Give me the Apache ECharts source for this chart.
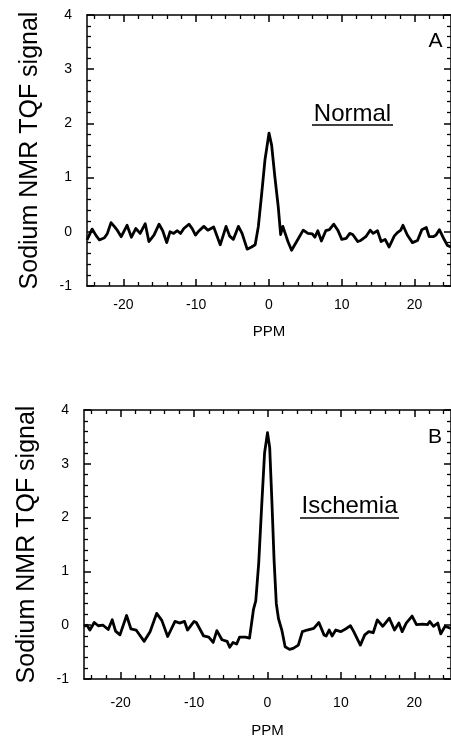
<!DOCTYPE html>
<html>
<head>
<meta charset="utf-8">
<script src="https://cdn.jsdelivr.net/npm/echarts@6/dist/echarts.min.js"></script>
<style>
html,body{margin:0;padding:0;background:#fff;}
#chart{width:451px;height:740px;}
</style>
</head>
<body>
<div id="chart"></div>
<script>
// ---- Data ----
var ppmA = [-25.0,-24.3,-23.7,-23.3,-22.6,-22.2,-21.7,-21.2,-20.8,-20.3,-19.5,-18.9,-18.3,-17.7,-17.0,-16.5,-15.8,-15.1,-14.6,-14.05,-13.6,-13.1,-12.6,-12.15,-11.7,-11.0,-10.55,-10.1,-9.6,-8.95,-8.4,-8.2,-7.6,-6.7,-6.2,-5.9,-5.4,-4.9,-4.2,-3.7,-3.0,-2.4,-1.9,-1.46,-1.0,-0.55,0.0,0.36,0.8,1.27,1.6,1.9,2.2,2.6,3.1,3.8,4.7,5.35,5.95,6.3,6.7,7.2,7.8,8.3,8.9,9.45,10.0,10.6,11.1,11.5,12.2,12.6,13.3,13.9,14.3,14.9,15.4,15.95,16.5,17.2,17.6,18.1,18.4,19.0,19.7,20.4,21.0,21.6,22.0,22.6,22.95,23.4,23.9,24.5,25.0];
var sigA = [-0.15,0.05,-0.08,-0.15,-0.11,-0.03,0.17,0.09,0.02,-0.09,0.12,-0.10,0.06,-0.03,0.15,-0.18,-0.06,0.14,0.02,-0.20,0.0,-0.03,0.02,-0.03,0.06,0.14,0.06,-0.06,0.02,0.10,0.03,0.0,0.09,-0.24,-0.03,0.10,-0.08,-0.14,0.10,-0.03,-0.32,-0.28,-0.24,0.10,0.71,1.33,1.82,1.60,1.02,0.46,-0.05,0.10,-0.02,-0.18,-0.34,-0.18,0.03,-0.03,-0.04,-0.10,0.02,-0.17,0.02,0.04,0.14,0.03,-0.14,-0.12,-0.03,-0.05,-0.18,-0.16,-0.09,0.03,-0.03,0.02,-0.18,-0.14,-0.28,-0.08,-0.02,0.03,0.12,-0.06,-0.20,-0.16,0.04,0.08,-0.09,-0.09,-0.06,0.04,-0.10,-0.25,-0.28];
var ppmB = [-25.0,-24.6,-24.2,-23.6,-23.05,-22.4,-21.7,-21.15,-20.7,-20.1,-19.2,-18.6,-17.9,-16.8,-16.0,-15.1,-14.4,-13.6,-12.6,-12.0,-11.3,-10.9,-10.0,-9.7,-8.7,-8.0,-7.4,-6.9,-6.2,-5.5,-5.15,-4.7,-4.2,-3.8,-3.0,-2.45,-1.9,-1.6,-1.2,-0.8,-0.4,0.0,0.3,0.6,0.9,1.2,1.5,1.95,2.4,3.0,3.5,4.2,4.75,5.4,6.3,7.0,7.7,8.0,8.4,8.8,9.3,10.0,10.75,11.3,11.75,12.65,13.25,13.8,14.4,14.96,15.7,16.6,17.3,17.9,18.35,18.9,19.7,20.3,21.15,21.8,22.1,22.6,23.2,23.6,24.2,25.0];
var sigB = [-0.02,0.0,-0.09,0.05,-0.01,0.0,-0.08,0.10,-0.11,-0.18,0.18,-0.07,-0.09,-0.30,-0.12,0.22,0.09,-0.21,0.07,0.04,0.07,-0.09,0.07,0.05,-0.20,-0.22,-0.32,-0.10,-0.27,-0.30,-0.41,-0.32,-0.35,-0.22,-0.22,-0.24,0.30,0.45,1.15,2.20,3.20,3.58,3.30,2.30,1.20,0.40,0.12,-0.09,-0.40,-0.45,-0.43,-0.37,-0.12,-0.09,-0.06,0.05,-0.18,-0.20,-0.09,-0.20,-0.09,-0.12,-0.06,-0.01,-0.12,-0.37,-0.18,-0.12,-0.14,0.10,-0.02,0.13,-0.09,0.04,-0.12,0.04,0.17,0.01,0.02,0.01,0.07,-0.02,0.04,-0.16,-0.02,-0.06];

var xMajorTicks = [-20,-10,0,10,20];
var xMinorTicks = [-24,-22,-18,-16,-14,-12,-8,-6,-4,-2,2,4,6,8,12,14,16,18,22,24];
var xMin = -25, xMax = 25;
var yMin = -1, yMax = 4, yStep = 1;
var yTitle = 'Sodium NMR TQF signal';
var xTitle = 'PPM';
var panelLetters = ['A','B'];
var panelNames = ['Normal','Ischemia'];

function pairs(xs, ys){ var out=[]; for(var i=0;i<xs.length;i++) out.push([xs[i], ys[i]]); return out; }

var FONT = '"Liberation Sans", Arial, Helvetica, sans-serif';
var grids = [
  {left:87, top:15, width:367, height:271, labelMargin:12, nameGap:38},
  {left:84, top:410, width:367, height:269, labelMargin:17, nameGap:44}
];

var xAxes = [], yAxes = [], series = [];
grids.forEach(function(g, gi){
  var base = {gridIndex: gi, type:'value', min:xMin, max:xMax, splitLine:{show:false}};
  xAxes.push(Object.assign({}, base, {
    position:'bottom',
    axisLine:{show:true, onZero:false, lineStyle:{color:'#000', width:1.5}},
    axisTick:{show:true, inside:true, length:7, customValues:xMajorTicks, lineStyle:{color:'#000', width:1.5}},
    axisLabel:{show:true, customValues:xMajorTicks, margin:g.labelMargin, color:'#000', fontSize:14, fontFamily:FONT},
    name:xTitle, nameLocation:'middle', nameGap:g.nameGap,
    nameTextStyle:{color:'#000', fontSize:15, fontFamily:FONT}
  }));
  var mainIdx = xAxes.length - 1;
  xAxes.push(Object.assign({}, base, {
    position:'bottom',
    axisLine:{show:false, onZero:false},
    axisTick:{show:true, inside:true, length:4, customValues:xMinorTicks, lineStyle:{color:'#000', width:1.3}},
    axisLabel:{show:false}
  }));
  xAxes.push(Object.assign({}, base, {
    position:'top',
    axisLine:{show:true, onZero:false, lineStyle:{color:'#000', width:1.5}},
    axisTick:{show:true, inside:true, length:7, customValues:xMajorTicks, lineStyle:{color:'#000', width:1.5}},
    axisLabel:{show:false}
  }));
  xAxes.push(Object.assign({}, base, {
    position:'top',
    axisLine:{show:false, onZero:false},
    axisTick:{show:true, inside:true, length:4, customValues:xMinorTicks, lineStyle:{color:'#000', width:1.3}},
    axisLabel:{show:false}
  }));
  var ybase = {gridIndex: gi, type:'value', min:yMin, max:yMax, interval:yStep, splitLine:{show:false},
    axisLine:{show:true, onZero:false, lineStyle:{color:'#000', width:1.5}},
    axisTick:{show:true, inside:true, length:7, lineStyle:{color:'#000', width:1.5}},
    minorTick:{show:true, splitNumber:5, length:4, lineStyle:{color:'#000', width:1.3}},
    minorSplitLine:{show:false}};
  yAxes.push(Object.assign({}, ybase, {
    position:'left',
    axisLabel:{show:true, margin:15, color:'#000', fontSize:14, fontFamily:FONT},
    name:yTitle, nameLocation:'middle', nameGap:44,
    nameTextStyle:{color:'#000', fontSize:25, fontFamily:FONT}
  }));
  var yIdx = yAxes.length - 1;
  yAxes.push(Object.assign({}, ybase, {position:'right', axisLabel:{show:false}}));
  series.push({
    type:'line', xAxisIndex:mainIdx, yAxisIndex:yIdx,
    data: gi === 0 ? pairs(ppmA, sigA) : pairs(ppmB, sigB),
    showSymbol:false, symbol:'none', clip:true, animation:false,
    lineStyle:{color:'#000', width:2.8, join:'round'}
  });
});

function label(txt, x, y, size){
  return {type:'text', x:x, y:y, style:{text:txt, fill:'#000', font:size+'px '+FONT, fontSize:size, fontFamily:FONT,
    align:'center', verticalAlign:'middle', textAlign:'center', textVerticalAlign:'middle'}};
}
function uline(x1, x2, y){
  return {type:'line', shape:{x1:x1, y1:y, x2:x2, y2:y}, style:{stroke:'#000', lineWidth:1.5}};
}

var chart = echarts.init(document.getElementById('chart'), null, {renderer:'canvas'});
chart.setOption({
  backgroundColor:'#fff',
  animation:false,
  grid: grids.map(function(g){ return {left:g.left, top:g.top, width:g.width, height:g.height, containLabel:false}; }),
  xAxis: xAxes,
  yAxis: yAxes,
  series: series,
  graphic: [
    label(panelLetters[0], 435.5, 41, 21),
    label(panelNames[0], 352.5, 114, 24),
    uline(312, 393, 125),
    label(panelLetters[1], 435, 437, 21),
    label(panelNames[1], 349.5, 506, 24),
    uline(300, 399, 518)
  ]
});
</script>
</body>
</html>
